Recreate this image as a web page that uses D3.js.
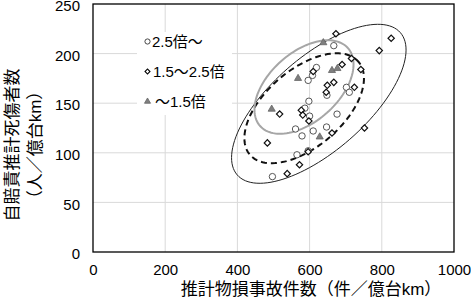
<!DOCTYPE html>
<html><head><meta charset="utf-8">
<script src="https://cdn.jsdelivr.net/npm/d3@7/dist/d3.min.js"></script>
<style>body{margin:0;background:#fff;} svg{display:block;}</style>
</head><body>
<svg id="c" width="471" height="301"></svg>
<script>
// ---- data ----
const xTicks = [0, 200, 400, 600, 800, 1000];
const yTicks = [0, 50, 100, 150, 200, 250];
const seriesNames = ["2.5倍～", "1.5～2.5倍", "～1.5倍"];
const xTitle = "推計物損事故件数（件／億台km）";
const yTitle1 = "自賠責推計死傷者数";
const yTitle2 = "（人／億台km）";

// 2.5倍～ (circles)
const highRatio = [[667,208],[619,186],[608,178],[596,173],[702,166],[710,161],[648,158],
  [598,152],[587,145],[600,137],[676,139],[647,126],[610,122],[561,124],[579,117],
  [565,98],[596,102],[497,76]];
// 1.5～2.5倍 (diamonds)
const midRatio = [[673,220],[826,215.5],[793,203],[716,195],[690,189],[742,184],[610,182],
  [649,168],[667,171],[646,161],[724,166],[577,143],[581,138],[598,132],[517,139],
  [752,125],[662,120],[483,110],[596,101],[572,88],[538,79]];
// ～1.5倍 (triangles)
const lowRatio = [[638,211],[662,183],[677,185],[568,175],[495,144],[628,116]];

// ellipses: centre + two conjugate semi-axis vectors, in data units
const ellipseGray   = {c:[584.5,166.3], u:[121.6,39.3], v:[-63.5,26.0]};
const ellipseDashed = {c:[585.0,144.9], u:[150.3,46.9], v:[-69.6,29.5]};
const ellipseOuter  = {c:[625.5,149.4], u:[226.0,71.7], v:[-85.7,35.8]};

// ---- drawing ----
const svg = d3.select("#c");
const FONT = "'Liberation Sans','Noto Sans CJK JP',sans-serif";
const x = d3.scaleLinear().domain([0,1000]).range([93,454]);
const y = d3.scaleLinear().domain([0,250]).range([252,4]);

// gridlines
svg.append("g").selectAll("line").data(xTicks.slice(1,-1)).join("line")
  .attr("x1",d=>x(d)).attr("x2",d=>x(d)).attr("y1",y(0)).attr("y2",y(250))
  .attr("stroke","#d9d9d9").attr("stroke-width",1);
svg.append("g").selectAll("line").data(yTicks.slice(1,-1)).join("line")
  .attr("y1",d=>y(d)).attr("y2",d=>y(d)).attr("x1",x(0)).attr("x2",x(1000))
  .attr("stroke","#d9d9d9").attr("stroke-width",1);

// legend background
svg.append("rect").attr("x",137).attr("y",32).attr("width",95).attr("height",83).attr("fill","#fff");

// axes
const xAxis = svg.append("g").attr("transform",`translate(0,${y(0)})`)
  .call(d3.axisBottom(x).tickValues(xTicks).tickFormat(d3.format("d")).tickSize(0).tickPadding(12));
xAxis.select(".domain").remove();
xAxis.selectAll("text").attr("font-size",15).attr("font-family",FONT).attr("fill","#000");
const yAxis = svg.append("g").attr("transform",`translate(80,0)`)
  .call(d3.axisLeft(y).tickValues(yTicks).tickFormat(d3.format("d")).tickSize(0).tickPadding(0));
yAxis.select(".domain").remove();
yAxis.selectAll("text").attr("font-size",15).attr("font-family",FONT).attr("fill","#000").attr("dy","0.45em");

// ellipses
function ellipsePts(e){
  return d3.range(0,121).map(i=>{
    const t = i/120*2*Math.PI;
    return [e.c[0]+Math.cos(t)*e.u[0]+Math.sin(t)*e.v[0],
            e.c[1]+Math.cos(t)*e.u[1]+Math.sin(t)*e.v[1]];
  });
}
const line = d3.line().x(d=>x(d[0])).y(d=>y(d[1])).curve(d3.curveLinearClosed);
svg.append("path").attr("d",line(ellipsePts(ellipseOuter))).attr("fill","none").attr("stroke","#222").attr("stroke-width",1);
svg.append("path").attr("d",line(ellipsePts(ellipseDashed))).attr("fill","none").attr("stroke","#111").attr("stroke-width",2).attr("stroke-dasharray","6,4");
svg.append("path").attr("d",line(ellipsePts(ellipseGray))).attr("fill","none").attr("stroke","#a6a6a6").attr("stroke-width",2);

// markers
const diamond = d3.symbol().type(d3.symbolSquare).size(20);
const tri = d3.symbol().type(d3.symbolTriangle).size(22);
svg.append("g").selectAll("circle").data(highRatio).join("circle")
  .attr("cx",d=>x(d[0])).attr("cy",d=>y(d[1])).attr("r",3.2)
  .attr("fill","#fff").attr("stroke","#444").attr("stroke-width",0.9);
svg.append("g").selectAll("path").data(midRatio).join("path")
  .attr("d",diamond).attr("transform",d=>`translate(${x(d[0])},${y(d[1])}) rotate(45)`)
  .attr("fill","#fff").attr("stroke","#111").attr("stroke-width",1.2);
svg.append("g").selectAll("path").data(lowRatio).join("path")
  .attr("d",tri).attr("transform",d=>`translate(${x(d[0])},${y(d[1])})`)
  .attr("fill","#7f7f7f").attr("stroke","#666").attr("stroke-width",0.8);

// plot border
svg.append("rect").attr("x",x(0)).attr("y",y(250)).attr("width",x(1000)-x(0)).attr("height",y(0)-y(250))
  .attr("fill","none").attr("stroke","#000").attr("stroke-width",1.3);

// legend
const leg = svg.append("g");
const ly = [41.5, 71.5, 101.5];
leg.append("circle").attr("cx",147.5).attr("cy",ly[0]).attr("r",2.6).attr("fill","#fff").attr("stroke","#333").attr("stroke-width",0.9);
leg.append("path").attr("d",d3.symbol().type(d3.symbolSquare).size(12)).attr("transform",`translate(147.5,${ly[1]}) rotate(45)`)
  .attr("fill","#fff").attr("stroke","#000").attr("stroke-width",1.1);
leg.append("path").attr("d",d3.symbol().type(d3.symbolTriangle).size(16)).attr("transform",`translate(147.5,${ly[2]})`)
  .attr("fill","#7f7f7f").attr("stroke","#666").attr("stroke-width",0.8);
leg.selectAll("text").data(seriesNames).join("text")
  .attr("x",(d,i)=>[152,153,155][i]).attr("y",(d,i)=>ly[i]).attr("dy","0.36em")
  .attr("font-size",15).attr("font-family",FONT).text(d=>d);

// axis titles
svg.append("text").attr("x",311).attr("y",289).attr("dy","0.36em").attr("text-anchor","middle")
  .attr("font-size",17).attr("font-family",FONT).text(xTitle);
svg.append("text").attr("transform","translate(12,145) rotate(-90)").attr("dy","0.36em").attr("text-anchor","middle")
  .attr("font-size",17).attr("font-family",FONT).attr("fill","#000").text(yTitle1);
svg.append("text").attr("transform","translate(35,145) rotate(-90)").attr("dy","0.36em").attr("text-anchor","middle")
  .attr("font-size",17).attr("font-family",FONT).attr("fill","#000").text(yTitle2);
</script>
</body></html>
